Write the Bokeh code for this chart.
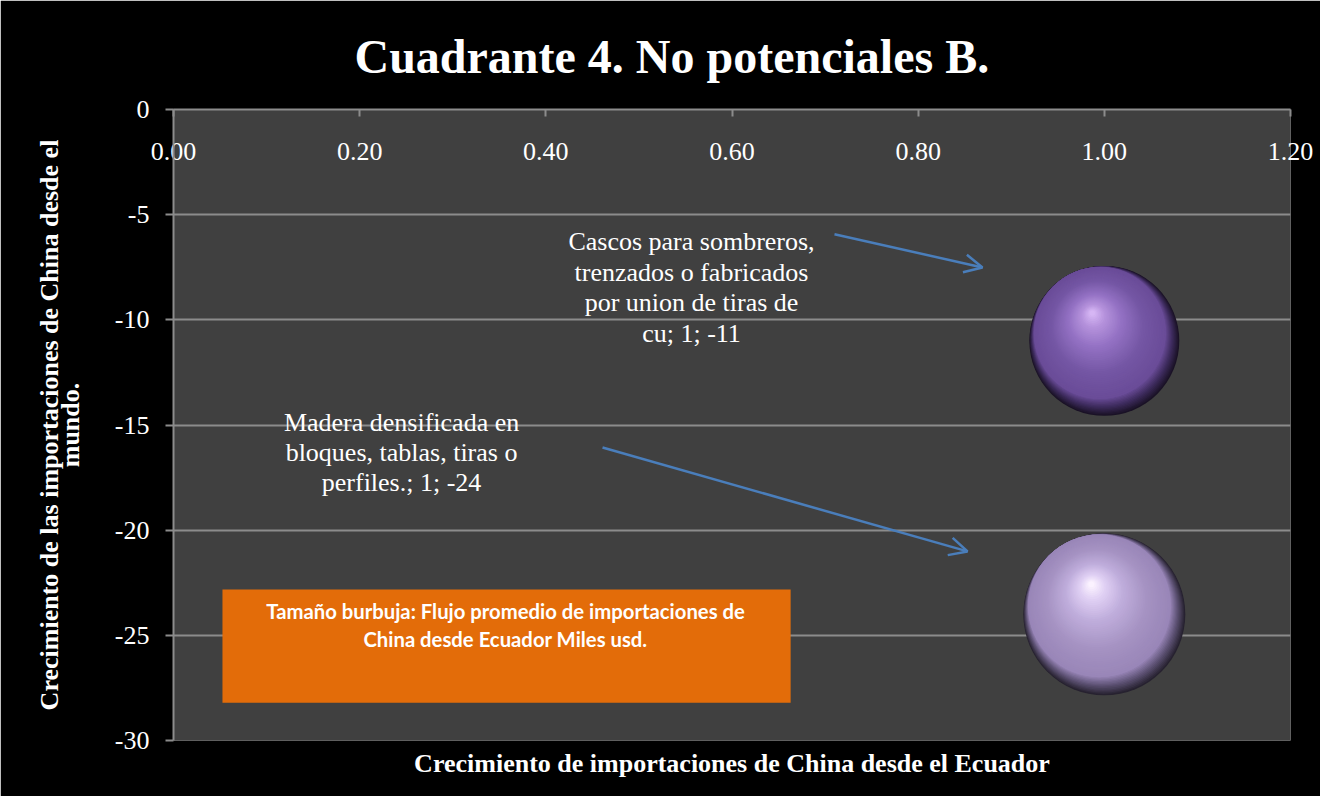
import textwrap
from bokeh.plotting import figure
from bokeh.models import (Range1d, LinearAxis, FixedTicker, ColumnDataSource, Label,
                          Arrow, OpenHead, BoxAnnotation, NumeralTickFormatter)
from bokeh.embed import file_html
from bokeh.resources import INLINE

# ---------------- data ----------------
categorias = [
    "Cascos para sombreros, trenzados o fabricados por union de tiras de cu",
    "Madera densificada en bloques, tablas, tiras o perfiles.",
]
crec_ecuador = [1.0, 1.0]          # x: crecimiento importaciones de China desde Ecuador
crec_mundo = [-11.0, -24.0]        # y: crecimiento importaciones de China desde el mundo
flujo_miles_usd = [30.0, 35.0]     # bubble size (estimated)
x_ticks = [0.0, 0.2, 0.4, 0.6, 0.8, 1.0, 1.2]
y_ticks = [0, -5, -10, -15, -20, -25, -30]
titulo = "Cuadrante 4. No potenciales B."
y_titulo = ["Crecimiento de las importaciones de China desde el", "mundo."]
x_titulo = "Crecimiento de importaciones de China desde el Ecuador"

# ---------------- layout / style ----------------
W, H = 1320, 796
FL, FT, FW, FH = 173, 109, 1117, 631
X0, X1 = 0.0, 1.2
Y0, Y1 = -30.0, 0.0
DX = (X1 - X0) / FW   # data units per px (x)
DY = (Y1 - Y0) / FH   # data units per px (y)
MAX_DIAM = 162.0
SERIF = "Liberation Serif"
GRID = "#8c8c8c"

p = figure(width=W, height=H, x_range=Range1d(X0, X1), y_range=Range1d(Y0, Y1),
           x_axis_location="above", output_backend="svg", toolbar_location=None,
           min_border_left=FL, min_border_top=FT, min_border_right=W - FL - FW,
           min_border_bottom=H - FT - FH, background_fill_color="#404040",
           border_fill_color="black", outline_line_color=None)

p.title.text = titulo
p.title.align = "left"
p.title.offset = 181
p.title.vertical_align = "top"
p.title.standoff = 50
p.title.text_color = "white"
p.title.text_font = SERIF
p.title.text_font_size = "48px"
p.title.text_font_style = "bold"

# top x axis
xa = p.xaxis[0]
xa.ticker = FixedTicker(ticks=x_ticks)
xa.formatter = NumeralTickFormatter(format="0.00")
xa.axis_line_color = GRID
xa.axis_line_width = 2
xa.major_tick_line_color = GRID
xa.major_tick_line_width = 2
xa.major_tick_in = 7
xa.major_tick_out = 0
xa.minor_tick_line_color = None
xa.major_label_text_color = "white"
xa.major_label_text_font = SERIF
xa.major_label_text_font_size = "26px"
xa.major_label_standoff = -50

# left y axis (second title line as its label)
ya = p.yaxis[0]
ya.ticker = FixedTicker(ticks=y_ticks)
ya.major_label_overrides = {t: str(t) for t in y_ticks}
ya.axis_line_color = GRID
ya.axis_line_width = 2
ya.major_tick_line_color = GRID
ya.major_tick_line_width = 2
ya.major_tick_in = 0
ya.major_tick_out = 8
ya.minor_tick_line_color = None
ya.major_label_text_color = "white"
ya.major_label_text_font = SERIF
ya.major_label_text_font_size = "26px"
ya.major_label_standoff = 16
ya.axis_label = y_titulo[1]
ya.axis_label_text_color = "white"
ya.axis_label_text_font = SERIF
ya.axis_label_text_font_size = "26px"
ya.axis_label_text_font_style = "bold"
ya.axis_label_standoff = 27

# outer left axis holding the first title line
ya2 = LinearAxis(ticker=FixedTicker(ticks=[]), axis_line_color=None,
                 major_tick_line_color=None, minor_tick_line_color=None,
                 major_tick_out=0, major_label_standoff=0,
                 axis_label=y_titulo[0], axis_label_text_color="white",
                 axis_label_text_font=SERIF, axis_label_text_font_size="26px",
                 axis_label_text_font_style="bold", axis_label_standoff=-11)
p.add_layout(ya2, "left")

# bottom axis only for its title
bx = LinearAxis(ticker=FixedTicker(ticks=[]), axis_line_color=None,
                major_tick_line_color=None, minor_tick_line_color=None,
                axis_label=x_titulo,
                axis_label_text_color="white", axis_label_text_font=SERIF,
                axis_label_text_font_size="26px", axis_label_text_font_style="bold",
                axis_label_standoff=8)
p.add_layout(bx, "below")

p.xgrid.visible = False
p.ygrid.ticker = FixedTicker(ticks=y_ticks)
p.ygrid.grid_line_color = GRID
p.ygrid.grid_line_width = 2

# ---------------- note box ----------------
box = BoxAnnotation(left=0.0526, right=0.663, top=-22.82, bottom=-28.2,
                    fill_color="#e36c09", fill_alpha=1.0, line_color=None)
p.add_layout(box)
p.add_layout(Label(x=0.3567, y=-24.51,
                   text="Tamaño burbuja: Flujo promedio de importaciones de\nChina desde Ecuador Miles usd.",
                   text_align="center", text_baseline="middle", text_color="white",
                   text_font="Lato", text_font_size="20.3px", text_font_style="bold",
                   text_line_height=1.2))

# ---------------- bubbles (shaded spheres) ----------------
def hex2rgb(h):
    h = h.lstrip("#")
    return tuple(int(h[i:i + 2], 16) for i in (0, 2, 4))

def grad(stops, t):
    for (t0, c0), (t1, c1) in zip(stops[:-1], stops[1:]):
        if t <= t1:
            u = (t - t0) / (t1 - t0) if t1 > t0 else 0
            a, b = hex2rgb(c0), hex2rgb(c1)
            return "#%02x%02x%02x" % tuple(int(round(a[i] + (b[i] - a[i]) * u)) for i in range(3))
    return stops[-1][1]

# phase A: dark crescent (lower-right), phase B: body to highlight
rim_pal = [
    [(0.0, "#1a1226"), (0.5, "#3e2c5e"), (1.0, "#6a4c98")],
    [(0.0, "#272230"), (0.5, "#5d5274"), (1.0, "#9986b8")],
]
body_pal = [
    [(0.0, "#6a4c98"), (0.3, "#7456a4"), (0.62, "#9472c4"), (0.85, "#b592dc"), (1.0, "#d6b6f4")],
    [(0.0, "#9986b8"), (0.3, "#a592c2"), (0.62, "#c0aedc"), (0.85, "#e0d0f4"), (1.0, "#fbf2ff")],
]
U = (-0.5, -0.866)      # tangent direction (px, down positive)
HL = (-0.16, -0.37)     # highlight offset, fraction of radius
RIM = 0.12
NA, NB = 14, 46
mx = max(flujo_miles_usd)
xs, ys, sz, cs = [], [], [], []

def add(i, ox, oy, r, c):
    xs.append(crec_ecuador[i] + ox * DX)
    ys.append(crec_mundo[i] - oy * DY)
    sz.append(2 * r)
    cs.append(c)

for i in range(len(crec_ecuador)):
    R = MAX_DIAM * (flujo_miles_usd[i] / mx) ** 0.5 / 2
    for k in range(NA):
        t = k / (NA - 1)
        r = R * (1 - RIM * t)
        add(i, U[0] * (R - r), U[1] * (R - r), r, grad(rim_pal[i], t))
    sx, sy = U[0] * RIM * R, U[1] * RIM * R
    for k in range(NB):
        t = k / (NB - 1)
        r = R * (1 - RIM) * (1 - 0.96 * t)
        ox = sx + (HL[0] * R - sx) * t
        oy = sy + (HL[1] * R - sy) * t
        add(i, ox, oy, r, grad(body_pal[i], t))

src = ColumnDataSource(dict(x=xs, y=ys, size=sz, color=cs))
p.scatter("x", "y", size="size", fill_color="color", line_color=None, source=src)

# ---------------- data labels and arrows ----------------
label_pos = [(0.5565, -8.46), (0.245, -16.31)]
arrows = [((0.7101, -5.93), (0.8691, -7.51)), ((0.4609, -16.07), (0.853, -21.01))]
for i in range(len(categorias)):
    txt = "%s; %g; %g" % (categorias[i], crec_ecuador[i], crec_mundo[i])
    lines = textwrap.wrap(txt, width=24)
    p.add_layout(Label(x=label_pos[i][0], y=label_pos[i][1], text="\n".join(lines),
                       text_align="center", text_baseline="middle", text_color="white",
                       text_font=SERIF, text_font_size="26px", text_line_height=1.05))
    (xs0, ys0), (xe, ye) = arrows[i]
    p.add_layout(Arrow(x_start=xs0, y_start=ys0, x_end=xe, y_end=ye,
                       line_color="#4a7ebb", line_width=2.5,
                       end=OpenHead(size=18, line_color="#4a7ebb", line_width=2.5)))

open("out.html", "w").write(file_html(p, INLINE))
